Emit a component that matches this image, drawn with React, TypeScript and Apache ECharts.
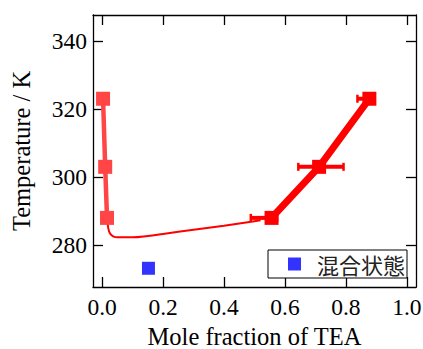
import React, { useEffect, useRef } from "react";
import * as echarts from "echarts";

const xTicks = [0, 0.2, 0.4, 0.6, 0.8, 1.0];
const yTicks = [280, 300, 320, 340];
const leftBranch = [[0.003, 323], [0.01, 303], [0.016, 288]];
const rightBranch = [[0.556, 288], [0.712, 303], [0.877, 323]];
// [x, y, xLow, xHigh]
const rightErr = [[0.556, 288, 0.487, 0.575], [0.712, 303, 0.643, 0.793], [0.877, 323, 0.837, 0.89]];
const mixed = [[0.152, 273.2]];
const curve = [
  [0.018, 287.2], [0.02, 285.0], [0.026, 283.4], [0.036, 282.6], [0.05, 282.3],
  [0.1, 282.3], [0.15, 282.7], [0.2, 283.3], [0.3, 284.5], [0.4, 285.7],
  [0.5, 287.0], [0.52, 287.3],
];
const legendName = "混合状態";

const SERIF = "Liberation Serif";

export default function App() {
  const ref = useRef<HTMLDivElement>(null);
  useEffect(() => {
    if (!ref.current) return;
    const chart = echarts.init(ref.current, null, { renderer: "svg" });
    const axisCommon = {
      axisLine: { show: true, onZero: false, lineStyle: { color: "#000", width: 1.3 } },
      splitLine: { show: false },
    };
    chart.setOption({
      animation: false,
      backgroundColor: "#fff",
      grid: { left: 93, right: 7, top: 15, bottom: 62, outerBoundsMode: "none", containLabel: false },
      legend: {
        data: [{ name: legendName, icon: "rect" }],
        left: 268,
        top: 250,
        itemWidth: 13,
        itemHeight: 13,
        padding: [3, 2, 3, 20],
        borderColor: "#000",
        borderWidth: 1,
        backgroundColor: "#fff",
        textStyle: {
          fontFamily: "Noto Sans CJK JP",
          fontSize: 22,
          color: "#222",
          padding: [0, 0, 0, 11],
        },
      },
      xAxis: [
        {
          type: "value",
          min: -0.03,
          max: 1.03,
          position: "bottom",
          ...axisCommon,
          name: "Mole fraction of TEA",
          nameLocation: "middle",
          nameGap: 35,
          nameTextStyle: { fontFamily: SERIF, fontSize: 24.5, color: "#000" },
          axisTick: { show: true, inside: true, length: 10, customValues: xTicks, lineStyle: { color: "#000", width: 1.3 } },
          axisLabel: {
            show: true,
            customValues: xTicks,
            margin: 8,
            fontFamily: SERIF,
            fontSize: 23.5,
            color: "#000",
            formatter: (v: number) => v.toFixed(1),
          },
        },
        {
          type: "value",
          min: -0.03,
          max: 1.03,
          position: "top",
          ...axisCommon,
          axisTick: { show: true, inside: true, length: 10, customValues: xTicks, lineStyle: { color: "#000", width: 1.3 } },
          axisLabel: { show: false },
        },
      ],
      yAxis: [
        {
          type: "value",
          min: 267.7,
          max: 347.6,
          position: "left",
          ...axisCommon,
          name: "Temperature / K",
          nameLocation: "middle",
          nameGap: 59,
          nameTextStyle: { fontFamily: SERIF, fontSize: 24.5, color: "#000" },
          axisTick: { show: true, inside: true, length: 10, customValues: yTicks, lineStyle: { color: "#000", width: 1.3 } },
          axisLabel: {
            show: true,
            customValues: yTicks,
            margin: 6,
            fontFamily: SERIF,
            fontSize: 23.5,
            color: "#000",
          },
        },
        {
          type: "value",
          min: 267.7,
          max: 347.6,
          position: "right",
          ...axisCommon,
          axisTick: { show: true, inside: true, length: 10, customValues: yTicks, lineStyle: { color: "#000", width: 1.3 } },
          axisLabel: { show: false },
        },
      ],
      series: [
        {
          type: "line",
          data: curve,
          smooth: 0.4,
          showSymbol: false,
          symbol: "none",
          lineStyle: { color: "#ff0000", width: 2 },
          z: 2,
          silent: true,
        },
        {
          type: "line",
          data: leftBranch,
          symbol: "rect",
          symbolSize: 14,
          itemStyle: { color: "#ff4545" },
          lineStyle: { color: "#ff4545", width: 4.5 },
          z: 3,
        },
        {
          type: "custom",
          data: rightErr,
          encode: { x: [2, 3], y: 1 },
          z: 4,
          renderItem: (params: any, api: any) => {
            const y = api.value(1);
            const p1 = api.coord([api.value(2), y]);
            const p2 = api.coord([api.value(3), y]);
            const st = { fill: "#ff0000" };
            return {
              type: "group",
              children: [
                { type: "line", shape: { x1: p1[0], y1: p1[1], x2: p2[0], y2: p2[1] }, style: { stroke: "#ff0000", lineWidth: 4 } },
                { type: "rect", shape: { x: p1[0] - 1, y: p1[1] - 4, width: 2.5, height: 8 }, style: st },
                { type: "rect", shape: { x: p2[0] - 1.5, y: p2[1] - 4, width: 2.5, height: 8 }, style: st },
              ],
            };
          },
        },
        {
          type: "line",
          data: rightBranch,
          symbol: "rect",
          symbolSize: 14,
          itemStyle: { color: "#ff0000" },
          lineStyle: { color: "#ff0000", width: 7 },
          z: 5,
        },
        {
          type: "scatter",
          name: legendName,
          data: mixed,
          symbol: "rect",
          symbolSize: 13,
          itemStyle: { color: "#0000ff" },
          z: 5,
        },
      ],
    });
    return () => chart.dispose();
  }, []);
  return (
    <div
      ref={ref}
      style={{ position: "fixed", left: 0, top: 0, width: 423, height: 349 }}
    />
  );
}
